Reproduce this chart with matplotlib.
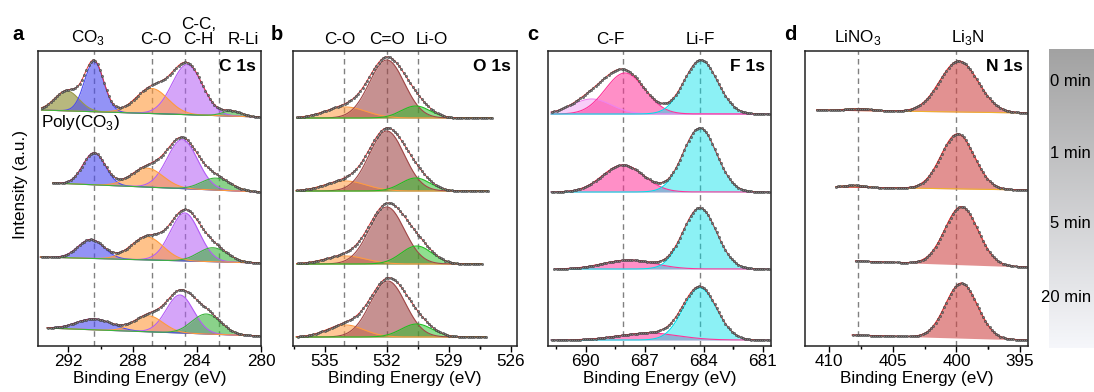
import numpy as np
import matplotlib
matplotlib.use('Agg')
import matplotlib.pyplot as plt
from matplotlib.colors import LinearSegmentedColormap
from matplotlib.ticker import FixedLocator

plt.rcParams['font.family'] = ['Liberation Sans', 'DejaVu Sans']
plt.rcParams['mathtext.fontset'] = 'custom'
plt.rcParams['mathtext.rm'] = 'Liberation Sans'
plt.rcParams['font.size'] = 12.3

###
# Data (intensity in arbitrary units, 4 spectra per panel:
# 0, 1, 5, 20 min from top to bottom). Each fitted component: centre [eV],
# height, gaussian width [eV].

# C 1s : Poly(CO3), CO3, C-C/C-H, C-O, R-Li
c1s_colors = ['#9a9a48', '#4b4bf0', '#b35cf5', '#ff9a3c', '#3cb43c']
c1s_centers = [[292.1, 290.4, 284.6, 286.8, 281.8],
               [292.1, 290.4, 284.9, 287.1, 282.8],
               [292.1, 290.6, 284.75, 287.1, 283.0],
               [292.1, 290.4, 285.05, 287.0, 283.4]]
c1s_heights = [[20, 50, 50, 25, 5],
               [0, 32, 49, 19, 12],
               [0, 19, 48, 23, 14],
               [0, 11, 38, 16, 20]]
c1s_widths = [[0.75, 0.6, 0.95, 1.0, 0.6],
              [0.75, 0.7, 0.95, 1.0, 0.9],
              [0.75, 0.8, 0.9, 1.0, 0.9],
              [0.75, 1.1, 0.85, 0.9, 0.9]]
c1s_base_left = [236, 163, 89, 18]
c1s_base_right = [229, 154, 83, 10]
c1s_start = [293.7, 293.0, 293.8, 293.4]
c1s_end = [280.1, 280.1, 280.1, 280.1]
c1s_ticks = [292, 288, 284, 280]

# O 1s : C-O, C=O, Li-O
o1s_colors = ['#ff9a40', '#a04848', '#20c020']
o1s_centers = [[534.0, 532.0, 530.6],
               [534.0, 532.0, 530.6],
               [534.0, 532.0, 530.55],
               [534.0, 531.95, 530.55]]
o1s_heights = [[11, 58, 12],
               [10, 60, 13],
               [8, 57, 18],
               [12, 56, 13]]
o1s_widths = [[1.0, 0.85, 0.7],
              [1.0, 0.85, 0.7],
              [1.0, 0.85, 0.75],
              [0.9, 0.85, 0.75]]
o1s_base_left = [228, 155, 82, 9]
o1s_base_right = [228, 155, 82, 9]
o1s_start = [536.4, 536.4, 536.4, 536.4]
o1s_end = [526.9, 527.1, 527.4, 527.2]
o1s_ticks = [535, 532, 529, 526]

# F 1s : C-F (two), Li-F
f1s_colors = ['#ee82ee', '#ff3399', '#00e0ea']
f1s_centers = [[689.7, 688.0, 684.15],
               [689.7, 688.1, 684.2],
               [689.7, 687.8, 684.2],
               [689.7, 686.8, 684.2]]
f1s_heights = [[15, 41, 54],
               [0, 27, 64],
               [0, 9, 61],
               [0, 7, 52]]
f1s_widths = [[1.0, 1.0, 0.85],
              [1.0, 1.05, 0.85],
              [1.0, 1.3, 0.85],
              [1.0, 1.5, 0.85]]
f1s_base_left = [232, 154, 77, 6]
f1s_base_right = [232, 154, 77, 6]
f1s_start = [691.8, 691.8, 691.6, 691.8]
f1s_end = [680.7, 680.7, 680.7, 680.7]
f1s_ticks = [690, 687, 684, 681]

# N 1s : LiNO3, Li3N
n1s_colors = ['#f0b030', '#d04848']
n1s_centers = [[407.6, 399.8],
               [408.0, 399.9],
               [407.8, 399.6],
               [407.8, 399.6]]
n1s_heights = [[2, 51],
               [2, 55],
               [0, 58],
               [0, 55]]
n1s_widths = [[1.0, 1.5],
              [0.8, 1.3],
              [0.8, 1.3],
              [0.8, 1.25]]
n1s_base_left = [236, 159, 85, 11]
n1s_base_right = [233, 156, 79, 6]
n1s_start = [411.0, 409.5, 408.0, 408.2]
n1s_end = [394.5, 394.5, 394.5, 394.5]
n1s_ticks = [410, 405, 400, 395]

times = ['0 min', '1 min', '5 min', '20 min']

###
# Figure

W, H = 1094, 392
fig = plt.figure(figsize=(W / 100, H / 100), dpi=100)


def px_axes(left, right, top=51, bottom=346):
    return fig.add_axes([left / W, 1 - bottom / H, (right - left) / W, (bottom - top) / H])


def gauss(x, c, h, s):
    return h * np.exp(-(x - c) ** 2 / (2 * s ** 2))


def draw_panel(ax, colors, centers, heights, widths, base_l, base_r, start, end,
               step, alphas):
    for k in range(4):
        x = np.arange(end[k], start[k], step)
        base = base_r[k] + (base_l[k] - base_r[k]) * (x - end[k]) / (start[k] - end[k])
        env = base.copy()
        for c, h, s, col, a in zip(centers[k], heights[k], widths[k], colors, alphas):
            if h == 0:
                continue
            g = gauss(x, c, h, s)
            env += g
            ax.fill_between(x, base, base + g, color=col, alpha=a, lw=0)
            ax.plot(x, base + g, color=col, lw=0.8)
        ax.plot(x, env, color='#e03a3a', lw=0.7)
        ax.plot(x[::2], env[::2], 'o', ms=1.6, mfc='#7a7a7a', mec='#333333', mew=0.35)


def style(ax, xlim, ticks, dashes, label, labels):
    ax.set_xlim(xlim)
    ax.set_ylim(0, 295)
    ax.set_yticks([])
    ax.xaxis.set_major_locator(FixedLocator(ticks))
    step = (ticks[1] - ticks[0]) / 2
    ax.xaxis.set_minor_locator(FixedLocator([t + step for t in ticks[:-1]] +
                                            [ticks[0] - step, ticks[-1] - step]))
    ax.tick_params(axis='x', which='major', direction='out', length=4, width=1, pad=2,
                   labelsize=12.3)
    ax.tick_params(axis='x', which='minor', direction='out', length=2.5, width=1)
    for sp in ax.spines.values():
        sp.set_linewidth(1.1)
        sp.set_color('#222222')
    for d in dashes:
        ax.axvline(d, color='#808080', lw=1, ls=(0, (4, 3)), zorder=0.5)
    ax.set_xlabel('Binding Energy (eV)', fontsize=12.3, labelpad=1)
    ax.text(0.975, 0.947, label, transform=ax.transAxes, ha='right', va='center',
            fontsize=12.5, fontweight='bold')
    tr = ax.get_xaxis_transform()
    for xpos, txt in labels:
        ax.text(xpos, 1.013, txt, transform=tr, ha='center', va='bottom',
                fontsize=12.3, linespacing=1.0)


ax_a = px_axes(38, 261)
draw_panel(ax_a, c1s_colors, c1s_centers, c1s_heights, c1s_widths,
           c1s_base_left, c1s_base_right, c1s_start, c1s_end, 0.07,
           [0.7, 0.6, 0.55, 0.6, 0.6])
style(ax_a, (293.9, 280), c1s_ticks, [290.4, 286.8, 284.75, 282.6], 'C 1s',
      [(290.75, 'CO$_3$'), (286.56, 'C-O'), (283.9, 'C-C,\nC-H'), (281.1, 'R-Li')])
ax_a.text(0.013, 0.756, 'Poly(CO$_3$)', transform=ax_a.transAxes, ha='left',
          va='center', fontsize=12.3)
ax_a.set_ylabel('Intensity (a.u.)', fontsize=12.3)
ax_a.yaxis.set_label_coords(-0.045, 0.546)

ax_b = px_axes(293, 516.7)
draw_panel(ax_b, o1s_colors, o1s_centers, o1s_heights, o1s_widths,
           o1s_base_left, o1s_base_right, o1s_start, o1s_end, 0.055,
           [0.55, 0.6, 0.5])
style(ax_b, (536.55, 525.7), o1s_ticks, [534.1, 532.0, 530.5], 'O 1s',
      [(534.3, 'C-O'), (532.0, 'C=O'), (529.8, 'Li-O')])

ax_c = px_axes(548.3, 770.7)
draw_panel(ax_c, f1s_colors, f1s_centers, f1s_heights, f1s_widths,
           f1s_base_left, f1s_base_right, f1s_start, f1s_end, 0.055,
           [0.4, 0.55, 0.45])
style(ax_c, (691.9, 680.6), f1s_ticks, [688.1, 684.2], 'F 1s',
      [(688.75, 'C-F'), (684.2, 'Li-F')])

ax_d = px_axes(805, 1028.3)
draw_panel(ax_d, n1s_colors, n1s_centers, n1s_heights, n1s_widths,
           n1s_base_left, n1s_base_right, n1s_start, n1s_end, 0.085,
           [0.6, 0.6])
style(ax_d, (411.9, 394.35), n1s_ticks, [407.75, 400.0], 'N 1s',
      [(407.75, 'LiNO$_3$'), (399.1, 'Li$_3$N')])

# panel letters
for xp, letter in [(18, 'a'), (277, 'b'), (533, 'c'), (790, 'd')]:
    fig.text(xp / W, 1 - 35 / H, letter, ha='center', va='center',
             fontsize=14.5, fontweight='bold')

# time bar
ax_bar = fig.add_axes([1049 / W, 1 - 348 / H, 45 / W, 299 / H])
cmap = LinearSegmentedColormap.from_list('bar', ['#a2a2a2', '#f6f7fb'])
ax_bar.imshow(np.linspace(0, 1, 256).reshape(-1, 1), cmap=cmap, aspect='auto')
ax_bar.axis('off')
for yp, t in zip([82, 153, 223, 297], times):
    fig.text(1091 / W, 1 - yp / H, t, ha='right', va='center', fontsize=12)

fig.savefig('out.png', dpi=100)
